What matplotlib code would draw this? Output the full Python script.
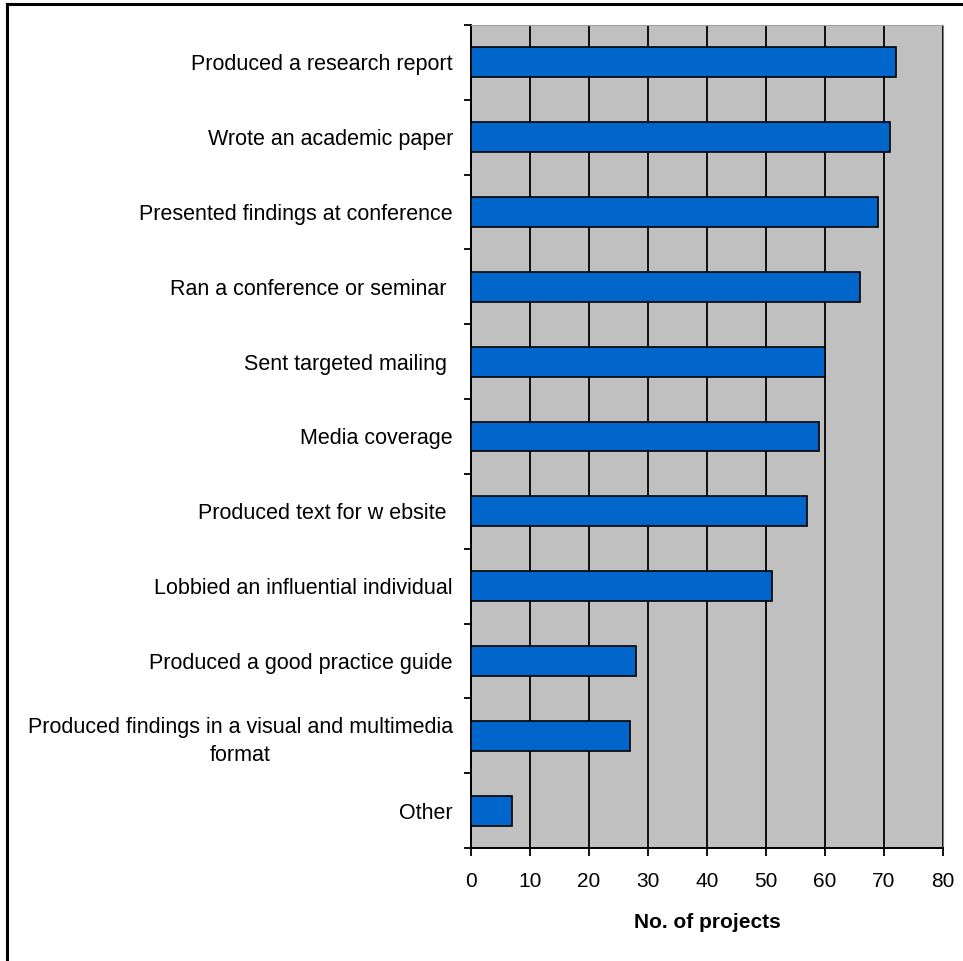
import matplotlib
matplotlib.use("Agg")
import matplotlib.pyplot as plt
from matplotlib.lines import Line2D

plt.rcParams['font.family'] = ['Liberation Sans', 'DejaVu Sans']

# Dissemination activities, top to bottom
activities = [
    "Produced a research report",
    "Wrote an academic paper",
    "Presented findings at conference",
    "Ran a conference or seminar ",
    "Sent targeted mailing ",
    "Media coverage",
    "Produced text for w ebsite ",
    "Lobbied an influential individual",
    "Produced a good practice guide",
    "Produced findings in a visual and multimedia\nformat",
    "Other",
]
projects = [72, 71, 69, 66, 60, 59, 57, 51, 28, 27, 7]
x_ticks = [0, 10, 20, 30, 40, 50, 60, 70, 80]

W, H = 963, 961
fig = plt.figure(figsize=(W / 100, H / 100), dpi=100)
ax = fig.add_axes([471 / W, 1 - 848 / H, (943 - 471) / W, (848 - 25) / H])

ax.set_facecolor('#C0C0C0')
ypos = list(range(len(activities)))
ax.barh(ypos, projects, height=0.4, color='#0066CC', edgecolor='black',
        linewidth=1.2, zorder=3)

ax.set_xlim(0, 80)
ax.set_ylim(len(activities) - 0.5, -0.5)
ax.set_xticks(x_ticks)
ax.set_xticklabels([str(t) for t in x_ticks], fontsize=15)
ax.xaxis.grid(True, color='black', linewidth=1.3, zorder=1)
ax.set_axisbelow(True)

# category labels centred on bars, tick marks at the boundaries
ax.set_yticks(ypos)
ax.set_yticklabels(activities, fontsize=15.5, multialignment='center',
                   linespacing=1.4)
ax.tick_params(axis='y', which='major', length=0, pad=13)
ax.set_yticks([i - 0.5 for i in range(len(activities) + 1)], minor=True)
ax.tick_params(axis='y', which='minor', length=5, width=1.3, direction='out')
ax.tick_params(axis='x', length=6, width=1.3, direction='out', pad=11)

for side in ['left', 'bottom']:
    ax.spines[side].set_linewidth(1.4)
    ax.spines[side].set_color('black')
ax.spines['right'].set_color('#808080')
ax.spines['top'].set_color('#A0A0A0')

ax.set_xlabel('No. of projects', fontsize=15, fontweight='bold', labelpad=16)

# outer frame
fig.add_artist(Line2D([7 / W, 1.0], [1 - 4 / H, 1 - 4 / H], color='black',
                      linewidth=2.2, transform=fig.transFigure))
fig.add_artist(Line2D([7 / W, 7 / W], [0.0, 1 - 4 / H], color='black',
                      linewidth=2.2, transform=fig.transFigure))

fig.savefig('out.png', dpi=100, facecolor='white')
